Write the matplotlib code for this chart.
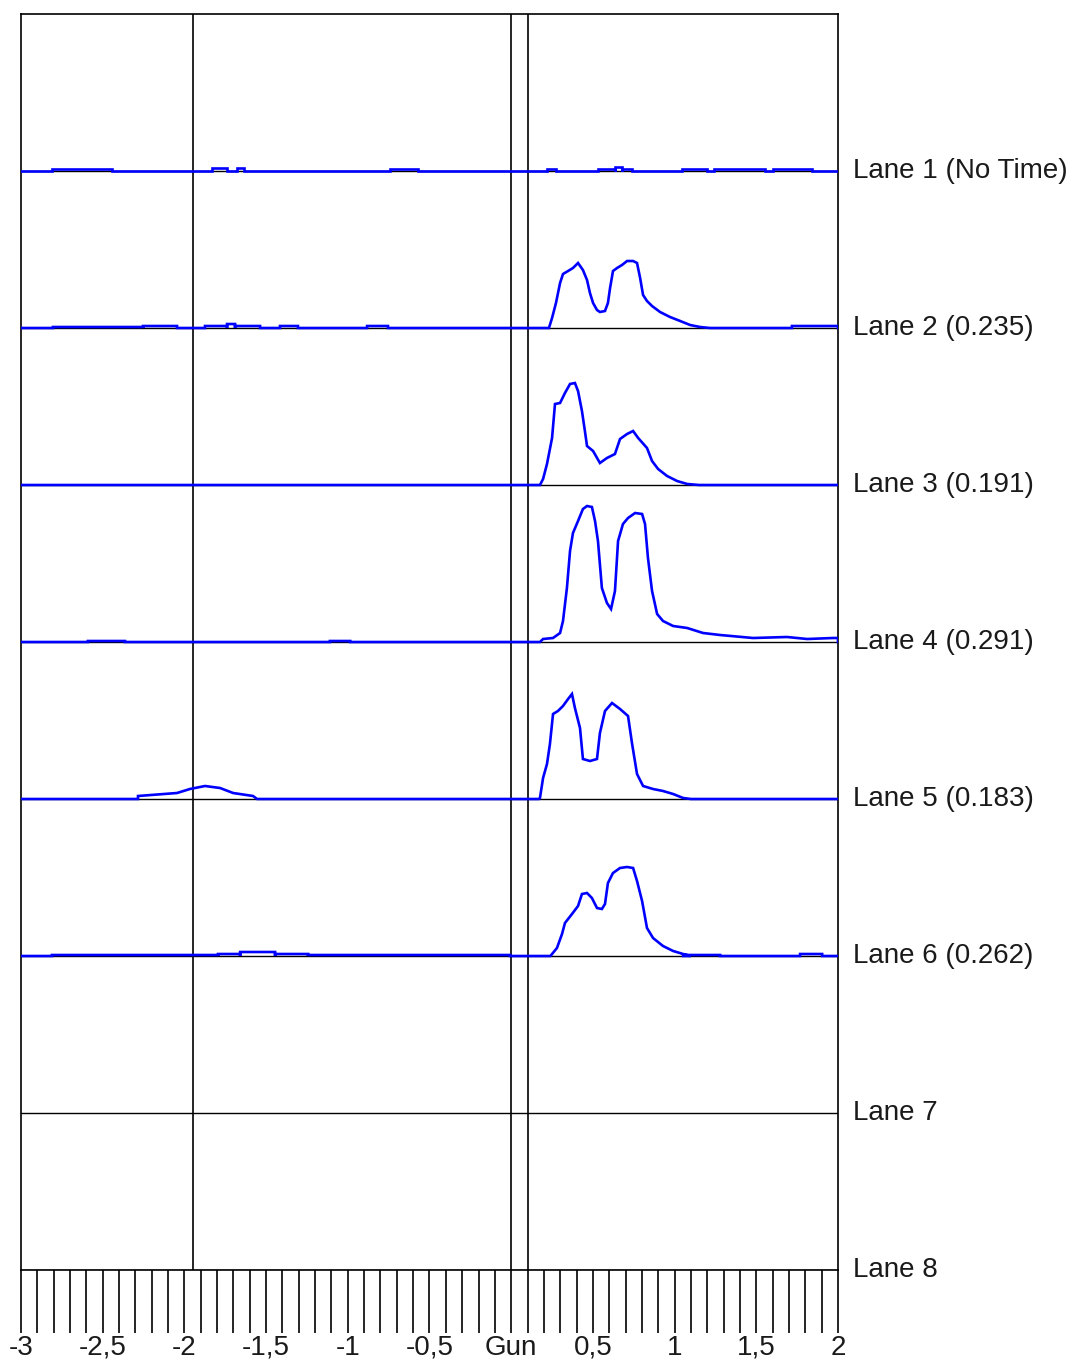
import numpy as np
import matplotlib
matplotlib.use("Agg")
import matplotlib.pyplot as plt
from matplotlib.transforms import blended_transform_factory

plt.rcParams['font.family'] = ['Liberation Sans', 'DejaVu Sans']

# ---------------- data ----------------
lane_labels = ["Lane 1 (No Time)", "Lane 2 (0.235)", "Lane 3 (0.191)", "Lane 4 (0.291)",
               "Lane 5 (0.183)", "Lane 6 (0.262)", "Lane 7", "Lane 8"]
tick_values = [-3, -2.5, -2, -1.5, -1, -0.5, 0, 0.5, 1, 1.5, 2]
tick_labels = ["-3", "-2,5", "-2", "-1,5", "-1", "-0,5", "Gun", "0,5", "1", "1,5", "2"]
marker_lines = [-1.95, 0.0, 0.1]

# main peaks: (position, signal)
lane2_peak = [(0.231, 0), (0.250, 10), (0.274, 25), (0.299, 45), (0.317, 54), (0.348, 57), (0.378, 60),
              (0.409, 65), (0.439, 58), (0.464, 48), (0.482, 35), (0.501, 25), (0.525, 18), (0.543, 16),
              (0.574, 17), (0.592, 25), (0.605, 40), (0.623, 57), (0.648, 60), (0.678, 63), (0.709, 67),
              (0.746, 67), (0.770, 65), (0.789, 50), (0.807, 33), (0.831, 27), (0.862, 22), (0.911, 16),
              (0.972, 11), (1.034, 7), (1.095, 3), (1.156, 1), (1.217, 0)]
lane3_peak = [(0.176, 0), (0.195, 6), (0.219, 21), (0.250, 47), (0.268, 81), (0.299, 82), (0.329, 92),
              (0.360, 101), (0.390, 102), (0.409, 94), (0.433, 74), (0.451, 54), (0.464, 39), (0.501, 34),
              (0.543, 22), (0.586, 27), (0.635, 31), (0.666, 46), (0.709, 51), (0.746, 54), (0.777, 47),
              (0.831, 37), (0.862, 24), (0.899, 16), (0.954, 9), (1.015, 4), (1.077, 1), (1.150, 0)]
lane4_peak = [(0.176, 0), (0.195, 3), (0.256, 4), (0.299, 9), (0.317, 21), (0.341, 54), (0.360, 91),
              (0.378, 109), (0.409, 121), (0.439, 133), (0.464, 136), (0.494, 135), (0.513, 121),
              (0.531, 101), (0.555, 54), (0.586, 39), (0.611, 33), (0.635, 51), (0.654, 101), (0.684, 118),
              (0.715, 124), (0.758, 129), (0.801, 128), (0.819, 118), (0.837, 84), (0.862, 51), (0.893, 28),
              (0.929, 21), (0.991, 16), (1.077, 14), (1.174, 9), (1.278, 7), (1.480, 4), (1.688, 5),
              (1.811, 3), (1.970, 4), (2.0, 4)]
lane5_peak = [(0.170, 0), (0.176, 1), (0.195, 21), (0.219, 35), (0.237, 55), (0.256, 85), (0.286, 88),
              (0.317, 93), (0.348, 100), (0.372, 105), (0.390, 91), (0.421, 71), (0.439, 40), (0.482, 38),
              (0.525, 40), (0.543, 66), (0.574, 88), (0.617, 96), (0.666, 90), (0.715, 83), (0.740, 55),
              (0.770, 25), (0.807, 13), (0.868, 10), (0.929, 8), (0.991, 5), (1.052, 1), (1.100, 0)]
lane5_side = [(-2.284, 0), (-2.284, 3), (-2.045, 6), (-1.966, 10), (-1.874, 13), (-1.782, 11),
              (-1.702, 6), (-1.580, 3), (-1.555, 0)]
lane6_peak = [(0.240, 0), (0.250, 2), (0.280, 8), (0.311, 22), (0.329, 33), (0.372, 42), (0.409, 50),
              (0.433, 62), (0.464, 63), (0.494, 58), (0.525, 48), (0.555, 47), (0.574, 52), (0.592, 73),
              (0.623, 83), (0.666, 88), (0.709, 89), (0.746, 88), (0.770, 75), (0.801, 55), (0.831, 28),
              (0.868, 18), (0.929, 10), (0.991, 5), (1.052, 2), (1.100, 0)]

# small baseline bumps: (start, end, signal)
lane1_bumps = [(-2.810, -2.443, 2), (-1.831, -1.739, 3), (-1.678, -1.635, 3), (-0.741, -0.570, 2),
               (0.219, 0.274, 2), (0.531, 0.635, 2), (0.635, 0.678, 4), (0.678, 0.740, 2),
               (1.045, 1.198, 2), (1.242, 1.554, 2), (1.603, 1.842, 2)]
lane2_bumps = [(-2.804, -2.253, 1), (-2.253, -2.045, 2), (-1.874, -1.739, 2), (-1.739, -1.690, 4),
               (-1.690, -1.537, 2), (-1.415, -1.305, 2), (-0.882, -0.754, 2), (1.718, 2.0, 2)]
lane3_bumps = []
lane4_bumps = [(-2.590, -2.364, 1), (-1.109, -0.986, 1)]
lane5_bumps = []
lane6_bumps = [(-2.810, -1.794, 1), (-1.794, -1.659, 2), (-1.659, -1.445, 4), (-1.445, -1.243, 2),
               (-1.243, -0.007, 1), (1.052, 1.278, 1), (1.768, 1.903, 2)]

lane_curves = {1: [], 2: [lane2_peak], 3: [lane3_peak], 4: [lane4_peak],
               5: [lane5_side, lane5_peak], 6: [lane6_peak]}
lane_bumps = {1: lane1_bumps, 2: lane2_bumps, 3: lane3_bumps, 4: lane4_bumps,
              5: lane5_bumps, 6: lane6_bumps}

LANE_SPACING = 157.0  # signal units between lane baselines
N_LANES = 8


def build_trace(curves, bumps):
    segs = []
    for (a, b, h) in bumps:
        segs.append([(a, 0), (a, h), (b, h), (b, 0)])
    segs.extend(curves)
    segs.sort(key=lambda s: s[0][0])
    pts = [(-3.0, 0.0)]
    for s in segs:
        pts.extend(s)
    pts.append((2.0, 0.0))
    xs = np.array([p[0] for p in pts])
    ys = np.array([p[1] for p in pts], dtype=float)
    return xs, ys


# ---------------- figure ----------------
W, H = 1071, 1360
fig = plt.figure(figsize=(W / 100, H / 100), dpi=100)
ax = fig.add_axes([21 / W, 90 / H, 817 / W, 1256 / H])
ax.set_xlim(-3, 2)
ax.set_ylim(0, N_LANES * LANE_SPACING)

for i in range(1, N_LANES + 1):
    base = (N_LANES - i) * LANE_SPACING
    ax.axhline(base, color='black', lw=1.0, zorder=2)

for xv in marker_lines:
    ax.axvline(xv, color='black', lw=1.2, zorder=2)

for lane in range(1, 7):
    base = (N_LANES - lane) * LANE_SPACING
    xs, ys = build_trace(lane_curves[lane], lane_bumps[lane])
    ax.plot(xs, ys + base, color='#0000FF', lw=1.9, zorder=3, solid_joinstyle='miter')

trans = blended_transform_factory(ax.transAxes, ax.transData)
for i, lab in enumerate(lane_labels, start=1):
    base = (N_LANES - i) * LANE_SPACING
    ax.text(1 + 15 / 817, base, lab, transform=trans, ha='left', va='center',
            fontsize=20, color='#1a1a1a')

ax.set_yticks([])
ax.set_xticks(tick_values)
ax.set_xticklabels(tick_labels, fontsize=20, color='#1a1a1a')
ax.set_xticks(np.arange(-3, 2.001, 0.1), minor=True)
ax.tick_params(axis='x', which='both', direction='out', length=45, width=1.2, color='black')
ax.tick_params(axis='x', which='major', pad=1.5)
for sp in ax.spines.values():
    sp.set_linewidth(1.2)

fig.savefig("out.png", dpi=100)
